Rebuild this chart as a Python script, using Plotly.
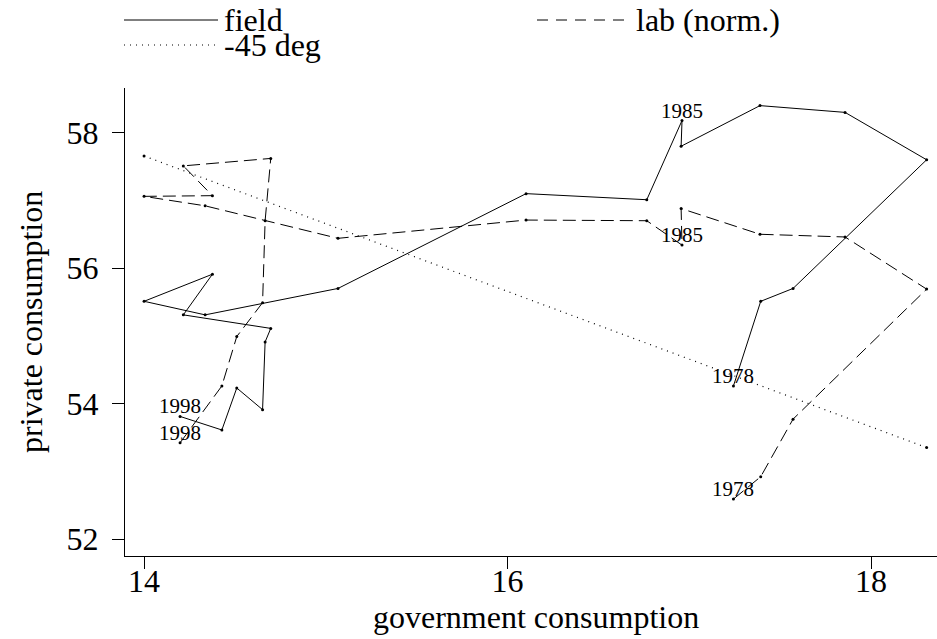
import plotly.graph_objects as go

# ---- data ----
years = [1978, 1979, 1980, 1981, 1982, 1983, 1984, 1985, 1986, 1987, 1988,
         1989, 1990, 1991, 1992, 1993, 1994, 1995, 1996, 1997, 1998]
gov = [17.243, 17.393, 17.571, 18.306, 17.857, 17.389, 16.955, 16.960, 16.766, 16.102, 15.067,
       14.336, 14.000, 14.376, 14.216, 14.697, 14.666, 14.652, 14.510, 14.428, 14.198]
field = [54.26, 55.51, 55.70, 57.60, 58.30, 58.40, 57.80, 58.18, 57.01, 57.10, 55.70,
         55.31, 55.51, 55.91, 55.31, 55.11, 54.91, 53.91, 54.23, 53.61, 53.81]
lab = [52.59, 52.92, 53.77, 55.69, 56.46, 56.50, 56.88, 56.34, 56.70, 56.71, 56.44,
       56.92, 57.06, 57.07, 57.51, 57.62, 56.70, 55.49, 54.99, 54.26, 53.42]
deg_x = [14.000, 18.306]
deg_y = [57.656, 53.350]
labeled_years = [1978, 1985, 1998]
x_ticks = [14, 16, 18]
y_ticks = [52, 54, 56, 58]

FONT = "Liberation Serif"
W, H = 937, 639
ML, MR, MT, MB = 125, 0, 88, 83
PW, PH = W - ML - MR, H - MT - MB


def px(xp):
    return (xp - ML) / PW


def py(yp):
    return (H - MB - yp) / PH


fig = go.Figure()
fig.add_trace(go.Scatter(x=gov, y=field, mode="lines+markers", name="field",
                         line=dict(color="black", width=1),
                         marker=dict(color="black", size=3), showlegend=False))
fig.add_trace(go.Scatter(x=gov, y=lab, mode="lines+markers", name="lab (norm.)",
                         line=dict(color="black", width=1, dash="13px,6px"),
                         marker=dict(color="black", size=3), showlegend=False))
fig.add_trace(go.Scatter(x=deg_x, y=deg_y, mode="lines+markers", name="-45 deg",
                         line=dict(color="black", width=1.2, dash="1px,5px"),
                         marker=dict(color="black", size=3), showlegend=False))

annotations = []
for yr in labeled_years:
    i = years.index(yr)
    for series in (field, lab):
        annotations.append(dict(x=gov[i], y=series[i], xref="x", yref="y", text=str(yr),
                                showarrow=False, xanchor="center", yanchor="bottom",
                                yshift=-4, font=dict(family=FONT, size=21, color="black")))

# manual legend
shapes = [
    dict(type="line", xref="paper", yref="paper", x0=px(124), x1=px(218), y0=py(20), y1=py(20),
         line=dict(color="black", width=1)),
    dict(type="line", xref="paper", yref="paper", x0=px(537), x1=px(630), y0=py(20), y1=py(20),
         line=dict(color="black", width=1, dash="11px,8px")),
    dict(type="line", xref="paper", yref="paper", x0=px(124), x1=px(218), y0=py(45), y1=py(45),
         line=dict(color="black", width=1.2, dash="1px,5px")),
]
for txt, xx, yy in [("field", 222, 20), ("lab (norm.)", 634, 20), ("-45 deg", 222, 45)]:
    annotations.append(dict(x=px(xx), y=py(yy), xref="paper", yref="paper", text=txt,
                            showarrow=False, xanchor="left", yanchor="middle",
                            font=dict(family=FONT, size=32, color="black")))

# axis titles
annotations.append(dict(x=px(536), y=py(617), xref="paper", yref="paper",
                        text="government consumption", showarrow=False,
                        xanchor="center", yanchor="middle",
                        font=dict(family=FONT, size=32, color="black")))
annotations.append(dict(x=px(31), y=py(322), xref="paper", yref="paper",
                        text="private consumption", showarrow=False, textangle=-90,
                        xanchor="center", yanchor="middle",
                        font=dict(family=FONT, size=32, color="black")))

fig.update_layout(
    width=W, height=H,
    margin=dict(l=ML, r=MR, t=MT, b=MB, autoexpand=False),
    paper_bgcolor="white", plot_bgcolor="white",
    font=dict(family=FONT, size=32, color="black"),
    shapes=shapes, annotations=annotations,
    showlegend=False,
)
fig.update_xaxes(range=[13.895, 18.363], tickvals=x_ticks, showgrid=False, zeroline=False,
                 showline=True, linecolor="black", linewidth=1, automargin=False,
                 ticks="outside", ticklen=12, tickcolor="black", tickwidth=1,
                 ticklabelstandoff=-15,
                 tickfont=dict(family=FONT, size=32))
fig.update_yaxes(range=[51.749, 58.660], tickvals=y_ticks, showgrid=False, zeroline=False,
                 showline=True, linecolor="black", linewidth=1, automargin=False,
                 ticks="outside", ticklen=12, tickcolor="black", tickwidth=1,
                 ticklabelstandoff=7,
                 tickfont=dict(family=FONT, size=32))

fig.write_html("out.html", config={"displayModeBar": False},
               post_script="document.body.style.margin='0';document.body.style.overflow='hidden';")
